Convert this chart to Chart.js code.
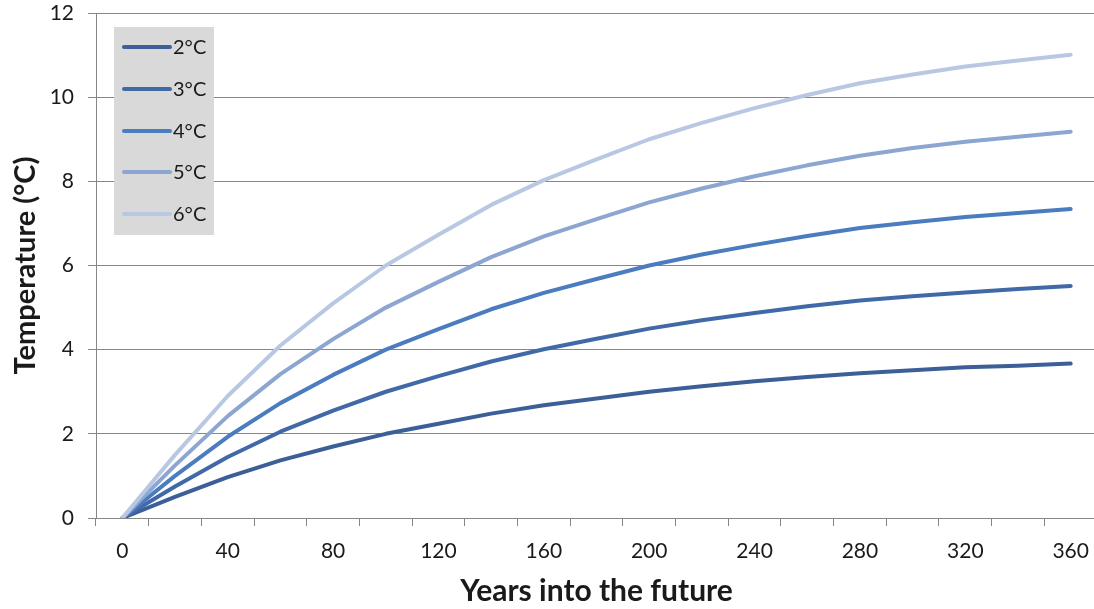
<!DOCTYPE html>
<html>
<head>
<meta charset="utf-8">
<script src="https://cdn.jsdelivr.net/npm/chart.js@4.4.1/dist/chart.umd.min.js"></script>
<style>
  html, body { margin: 0; padding: 0; background: #ffffff; overflow: hidden; }
  #wrap { width: 1100px; height: 609px; }
</style>
</head>
<body>
<div id="wrap"><canvas id="c" width="1100" height="609"></canvas></div>
<script>
// Categories (years into the future)
const years = [0, 20, 40, 60, 80, 100, 120, 140, 160, 180, 200, 220, 240, 260, 280, 300, 320, 340, 360];

// Series values (°C)
const t2 = [0, 0.50, 0.97, 1.37, 1.70, 2.00, 2.24, 2.48, 2.68, 2.84, 3.00, 3.13, 3.25, 3.35, 3.44, 3.51, 3.58, 3.62, 3.67];
const t3 = [0, 0.75, 1.45, 2.05, 2.55, 3.00, 3.37, 3.72, 4.01, 4.26, 4.50, 4.70, 4.87, 5.03, 5.17, 5.27, 5.36, 5.44, 5.51];
const t4 = [0, 1.00, 1.93, 2.73, 3.40, 4.00, 4.49, 4.96, 5.35, 5.68, 6.00, 6.26, 6.49, 6.70, 6.89, 7.03, 7.15, 7.25, 7.34];
const t5 = [0, 1.25, 2.42, 3.42, 4.25, 5.00, 5.61, 6.20, 6.69, 7.10, 7.50, 7.83, 8.12, 8.38, 8.61, 8.79, 8.94, 9.06, 9.18];
const t6 = [0, 1.50, 2.90, 4.10, 5.10, 6.00, 6.73, 7.44, 8.03, 8.52, 9.00, 9.39, 9.74, 10.05, 10.33, 10.54, 10.73, 10.87, 11.01];

const seriesNames = ['2°C', '3°C', '4°C', '5°C', '6°C'];
const seriesData = [t2, t3, t4, t5, t6];
const seriesColors = ['#3b5f96', '#4169a7', '#4a7cbf', '#8ca6d1', '#b9c8e2'];

// Y tick values
const yTicks = [0, 2, 4, 6, 8, 10, 12];

const FONT = 'Lato, "Open Sans", sans-serif';
const AXIS_GRAY = '#868686';

const datasets = seriesNames.map((name, i) => ({
  label: name,
  data: seriesData[i],
  borderColor: seriesColors[i],
  backgroundColor: seriesColors[i],
  borderWidth: 4,
  borderCapStyle: 'round',
  borderJoinStyle: 'round',
  pointRadius: 0,
  pointHoverRadius: 0,
  tension: 0,
  fill: false,
  order: seriesNames.length - i
}));

const boxLegend = {
  id: 'boxLegend',
  afterDatasetsDraw(chart) {
    const ctx = chart.ctx;
    const x0 = 114, y0 = 27, w = 100, h = 208;
    ctx.save();
    ctx.fillStyle = '#d9d9d9';
    ctx.fillRect(x0, y0, w, h);
    const rows = [47, 89, 131, 172, 214];
    chart.data.datasets.forEach((ds, i) => {
      const y = rows[i];
      ctx.strokeStyle = ds.borderColor;
      ctx.lineWidth = 4;
      ctx.lineCap = 'round';
      ctx.beginPath();
      ctx.moveTo(124, y);
      ctx.lineTo(170, y);
      ctx.stroke();
      ctx.fillStyle = '#1a1a1a';
      ctx.font = '20px ' + FONT;
      ctx.textBaseline = 'middle';
      ctx.textAlign = 'left';
      ctx.fillText(ds.label, 173, y + 1);
    });
    ctx.restore();
  }
};

new Chart(document.getElementById('c'), {
  type: 'line',
  data: { labels: years.map(String), datasets },
  plugins: [boxLegend],
  options: {
    responsive: false,
    animation: false,
    layout: { padding: { top: 13, right: 3, left: 0, bottom: 0 } },
    plugins: { legend: { display: false }, tooltip: { enabled: false } },
    scales: {
      x: {
        type: 'category',
        offset: true,
        grid: {
          offset: true,
          drawOnChartArea: false,
          drawTicks: true,
          tickLength: 8,
          color: AXIS_GRAY,
          lineWidth: 1
        },
        border: { display: true, color: AXIS_GRAY, width: 1 },
        ticks: {
          autoSkip: false,
          maxRotation: 0,
          minRotation: 0,
          padding: 13,
          color: '#1a1a1a',
          font: { family: FONT, size: 21 },
          callback: function (val, idx) { return idx % 2 === 0 ? this.getLabelForValue(val) : ''; }
        },
        title: {
          display: true,
          text: 'Years into the future',
          color: '#1a1a1a',
          font: { family: FONT, size: 30, weight: 'bold' },
          padding: { top: 0, bottom: 0 }
        },
        afterFit(scale) { scale.height = 91; scale.paddingLeft = 0; scale.paddingRight = 0; }
      },
      y: {
        min: 0,
        max: 12,
        afterBuildTicks(scale) { scale.ticks = yTicks.map(v => ({ value: v })); },
        grid: {
          drawTicks: true,
          tickLength: 8,
          color: AXIS_GRAY,
          lineWidth: 1
        },
        border: { display: true, color: AXIS_GRAY, width: 1 },
        ticks: {
          padding: 14,
          color: '#1a1a1a',
          font: { family: FONT, size: 21 }
        },
        title: {
          display: true,
          text: 'Temperature (°C)',
          color: '#1a1a1a',
          font: { family: FONT, size: 29, weight: 'bold' },
          padding: { top: 8, bottom: 0 }
        },
        afterFit(scale) { scale.width = 96; scale.paddingTop = 0; scale.paddingBottom = 0; }
      }
    }
  }
});
</script>
</body>
</html>
